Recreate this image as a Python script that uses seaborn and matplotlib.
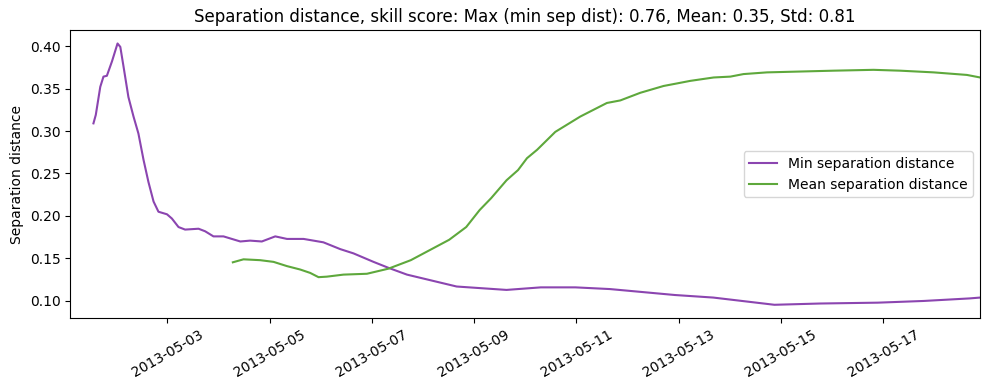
import pandas as pd
import matplotlib.pyplot as plt
import matplotlib.dates as mdates
import seaborn as sns

start = pd.Timestamp('2013-05-01 00:00')

# hours since 2013-05-01 00:00 and values
min_hours = [13.4, 14.5, 16.6, 18.1, 19.7, 22.1, 24.7, 26.0, 27.5, 29.8, 32.2, 34.5,
             36.9, 39.2, 41.6, 43.9, 47.9, 50.2, 53.3, 56.4, 62.7, 65.8, 69.7, 74.4,
             82.3, 86.9, 92.4, 98.7, 104.2, 112.0, 121.3, 129.2, 135.4, 144.8, 151.8,
             160.5, 183.8, 207.2, 223.3, 239.5, 255.7, 286.2, 304.2, 332.9, 354.4,
             381.4, 402.9, 424.5, 429.4]
min_sep = [0.309, 0.319, 0.352, 0.364, 0.365, 0.382, 0.403, 0.399, 0.376, 0.340, 0.317, 0.297,
           0.266, 0.240, 0.217, 0.205, 0.202, 0.197, 0.187, 0.184, 0.185, 0.182, 0.176, 0.176,
           0.170, 0.171, 0.170, 0.176, 0.173, 0.173, 0.169, 0.161, 0.156, 0.146, 0.139,
           0.131, 0.117, 0.113, 0.116, 0.116, 0.114, 0.107, 0.104, 0.0955, 0.097,
           0.098, 0.100, 0.103, 0.104]

mean_hours = [78.8, 83.8, 91.6, 97.9, 104.2, 110.4, 115.1, 119.0, 122.9, 130.7, 141.7,
              151.8, 162.3, 180.3, 188.3, 194.6, 200.0, 207.2, 212.6, 216.8, 221.6,
              230.1, 241.8, 254.3, 260.6, 270.0, 280.9, 287.2, 293.4, 304.4, 312.2,
              318.4, 329.4, 345.0, 360.6, 379.4, 391.9, 407.6, 423.2, 429.4]
mean_sep = [0.1455, 0.149, 0.148, 0.146, 0.141, 0.137, 0.133, 0.128, 0.1286, 0.131, 0.132,
            0.138, 0.148, 0.172, 0.187, 0.207, 0.221, 0.242, 0.254, 0.268, 0.278,
            0.299, 0.317, 0.333, 0.336, 0.345, 0.353, 0.356, 0.359, 0.363, 0.364,
            0.367, 0.369, 0.370, 0.371, 0.372, 0.371, 0.369, 0.366, 0.363]

df_min = pd.DataFrame({'time': start + pd.to_timedelta(min_hours, unit='h'), 'dist': min_sep})
df_mean = pd.DataFrame({'time': start + pd.to_timedelta(mean_hours, unit='h'), 'dist': mean_sep})

fig, ax = plt.subplots(figsize=(9.89, 3.9), dpi=100)
sns.lineplot(data=df_min, x='time', y='dist', color='#8b45b0', linewidth=1.5,
             label='Min separation distance', ax=ax)
sns.lineplot(data=df_mean, x='time', y='dist', color='#5ea83c', linewidth=1.5,
             label='Mean separation distance', ax=ax)

ax.set_xlim(start + pd.Timedelta(hours=2.5), start + pd.Timedelta(hours=429.4))
ax.xaxis.set_major_locator(mdates.DayLocator(interval=2, bymonthday=range(3, 32, 2)))
ax.xaxis.set_major_formatter(mdates.DateFormatter('%Y-%m-%d'))
plt.setp(ax.get_xticklabels(), rotation=30)
ax.set_xlabel('')
ax.set_ylabel('Separation distance')
ax.set_title('Separation distance, skill score: Max (min sep dist): 0.76, Mean: 0.35, Std: 0.81')
ax.legend(loc='center right')
plt.subplots_adjust(left=0.071, right=0.991, top=0.922, bottom=0.185)
plt.savefig('out.png')
